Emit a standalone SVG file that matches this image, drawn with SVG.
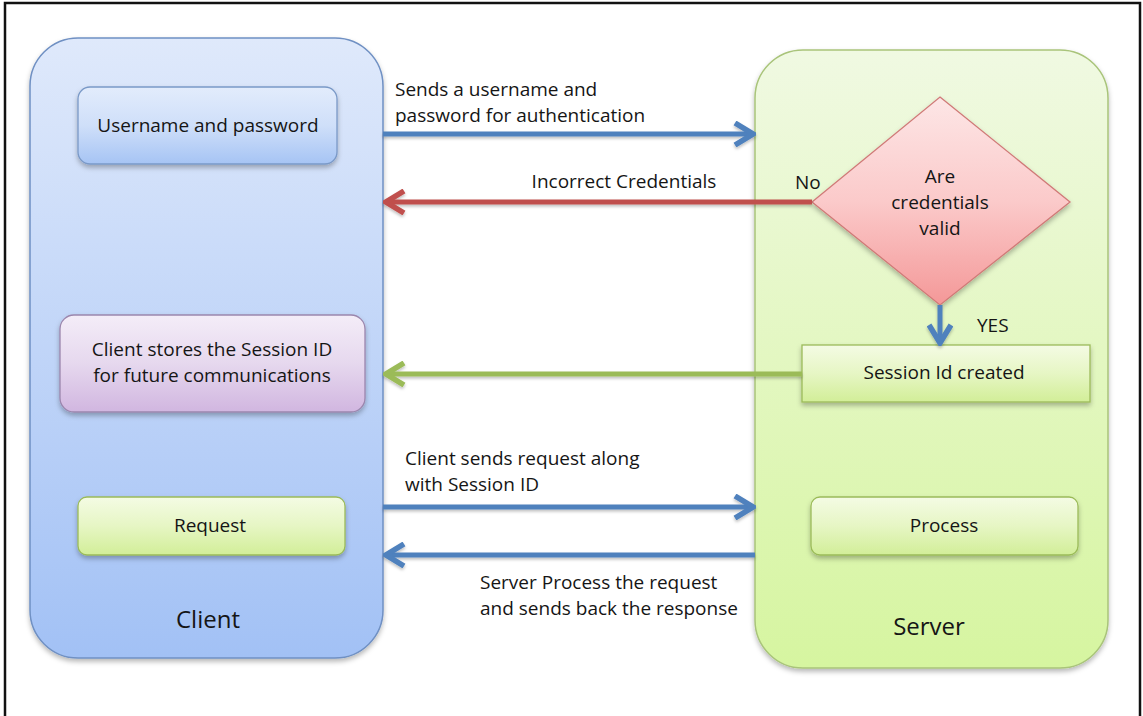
<svg xmlns="http://www.w3.org/2000/svg" width="1143" height="716" viewBox="0 0 1143 716">
  <style>
    text { font-family: "Open Sans", "Noto Sans", "Liberation Sans", sans-serif; fill: #151515; font-size: 19px; }
    .c { text-anchor: middle; }
    .big { font-size: 24px; }
    .blue { stroke: #4f81bd; stroke-width: 5; fill: none; }
    .red { stroke: #c0504d; stroke-width: 5; fill: none; }
    .green { stroke: #9bbb59; stroke-width: 5; fill: none; }
  </style>
  <defs>
    <linearGradient id="gClient" x1="0" y1="0" x2="0" y2="1">
      <stop offset="0" stop-color="#dfe9fb"/>
      <stop offset="1" stop-color="#a2c1f5"/>
    </linearGradient>
    <linearGradient id="gServer" x1="0" y1="0" x2="0" y2="1">
      <stop offset="0" stop-color="#f0f9e2"/>
      <stop offset="1" stop-color="#d6f5a0"/>
    </linearGradient>
    <linearGradient id="gBlueBox" x1="0" y1="0" x2="0" y2="1">
      <stop offset="0" stop-color="#e2ecfc"/>
      <stop offset="0.5" stop-color="#cfdff9"/>
      <stop offset="1" stop-color="#a6c4f4"/>
    </linearGradient>
    <linearGradient id="gPurple" x1="0" y1="0" x2="0" y2="1">
      <stop offset="0" stop-color="#f4edf8"/>
      <stop offset="0.5" stop-color="#e6d8ee"/>
      <stop offset="1" stop-color="#d1b6e0"/>
    </linearGradient>
    <linearGradient id="gGreenBox" x1="0" y1="0" x2="0" y2="1">
      <stop offset="0" stop-color="#f4fbe4"/>
      <stop offset="0.5" stop-color="#e6f6c4"/>
      <stop offset="1" stop-color="#d2ee98"/>
    </linearGradient>
    <linearGradient id="gPink" x1="0" y1="0" x2="0" y2="1">
      <stop offset="0" stop-color="#fde6e6"/>
      <stop offset="0.5" stop-color="#fbcaca"/>
      <stop offset="1" stop-color="#f49898"/>
    </linearGradient>
    <filter id="sh" x="-10%" y="-10%" width="120%" height="130%">
      <feDropShadow dx="0" dy="3" stdDeviation="2.5" flood-color="#000" flood-opacity="0.28"/>
    </filter>
    <filter id="shA" filterUnits="userSpaceOnUse" x="0" y="0" width="1143" height="716">
      <feDropShadow dx="0" dy="2" stdDeviation="1.5" flood-color="#000" flood-opacity="0.25"/>
    </filter>
    <marker id="aBlue" viewBox="0 0 24 26" refX="21" refY="13" markerWidth="24" markerHeight="26" markerUnits="userSpaceOnUse" orient="auto">
      <path d="M3,2 L21,13 L3,24" fill="none" stroke="#4f81bd" stroke-width="5.5"/>
    </marker>
    <marker id="aRed" viewBox="0 0 24 26" refX="21" refY="13" markerWidth="24" markerHeight="26" markerUnits="userSpaceOnUse" orient="auto">
      <path d="M3,2 L21,13 L3,24" fill="none" stroke="#c0504d" stroke-width="5.5"/>
    </marker>
    <marker id="aGreen" viewBox="0 0 24 26" refX="21" refY="13" markerWidth="24" markerHeight="26" markerUnits="userSpaceOnUse" orient="auto">
      <path d="M3,2 L21,13 L3,24" fill="none" stroke="#9bbb59" stroke-width="5.5"/>
    </marker>
  </defs>

  <rect x="0" y="0" width="1143" height="716" fill="#ffffff"/>
  <rect id="frame" x="5" y="3" width="1135" height="730" fill="none" stroke="#111" stroke-width="2.5"/>

  <g id="client-panel">
    <rect x="30" y="38" width="353" height="620" rx="48" ry="48" fill="url(#gClient)" stroke="#6f90c3" stroke-width="1.5" filter="url(#sh)"/>
    <text class="c big" x="208" y="628">Client</text>
  </g>

  <g id="server-panel">
    <rect x="755" y="50" width="353" height="618" rx="48" ry="48" fill="url(#gServer)" stroke="#a9c47a" stroke-width="1.5" filter="url(#sh)"/>
    <text class="c big" x="929" y="635">Server</text>
  </g>

  <g id="username-box">
    <rect x="78" y="87" width="259" height="77" rx="12" ry="12" fill="url(#gBlueBox)" stroke="#7a99c7" stroke-width="1.3" filter="url(#sh)"/>
    <text class="c" x="208" y="132">Username and password</text>
  </g>

  <g id="client-stores-box">
    <rect x="60" y="315" width="305" height="97" rx="14" ry="14" fill="url(#gPurple)" stroke="#9b86ad" stroke-width="1.3" filter="url(#sh)"/>
    <text class="c" x="212" y="356">Client stores the Session ID</text>
    <text class="c" x="212" y="382">for future communications</text>
  </g>

  <g id="request-box">
    <rect x="78" y="497" width="267" height="58" rx="9" ry="9" fill="url(#gGreenBox)" stroke="#9bbb59" stroke-width="1.3" filter="url(#sh)"/>
    <text class="c" x="210" y="532">Request</text>
  </g>

  <g id="decision">
    <polygon points="940,97 1070,202 940,305 812,202" fill="url(#gPink)" stroke="#d07a78" stroke-width="1.3" filter="url(#sh)"/>
    <text class="c" x="940" y="183">Are</text>
    <text class="c" x="940" y="209">credentials</text>
    <text class="c" x="940" y="235">valid</text>
  </g>

  <g id="session-box">
    <rect x="802" y="345" width="288" height="57" fill="url(#gGreenBox)" stroke="#9bbb59" stroke-width="1.3" filter="url(#sh)"/>
    <text class="c" x="944" y="379">Session Id created</text>
  </g>

  <g id="process-box">
    <rect x="811" y="497" width="267" height="58" rx="9" ry="9" fill="url(#gGreenBox)" stroke="#9bbb59" stroke-width="1.3" filter="url(#sh)"/>
    <text class="c" x="944" y="532">Process</text>
  </g>

  <g id="connectors">
    <g filter="url(#shA)">
      <line class="blue" x1="383" y1="134" x2="753" y2="134" marker-end="url(#aBlue)"/>
      <line class="red" x1="812" y1="202" x2="386" y2="202" marker-end="url(#aRed)"/>
      <line class="blue" x1="940" y1="305" x2="940" y2="343" marker-end="url(#aBlue)"/>
      <line class="green" x1="802" y1="374" x2="386" y2="374" marker-end="url(#aGreen)"/>
      <line class="blue" x1="383" y1="507" x2="753" y2="507" marker-end="url(#aBlue)"/>
      <line class="blue" x1="755" y1="555" x2="386" y2="555" marker-end="url(#aBlue)"/>
    </g>
    <text x="395" y="96">Sends a username and</text>
    <text x="395" y="122">password for authentication</text>
    <text class="c" x="624" y="188">Incorrect Credentials</text>
    <text x="795" y="189">No</text>
    <text x="977" y="332">YES</text>
    <text x="405" y="465">Client sends request along</text>
    <text x="405" y="491">with Session ID</text>
    <text x="480" y="589">Server Process the request</text>
    <text x="480" y="615">and sends back the response</text>
  </g>
</svg>
